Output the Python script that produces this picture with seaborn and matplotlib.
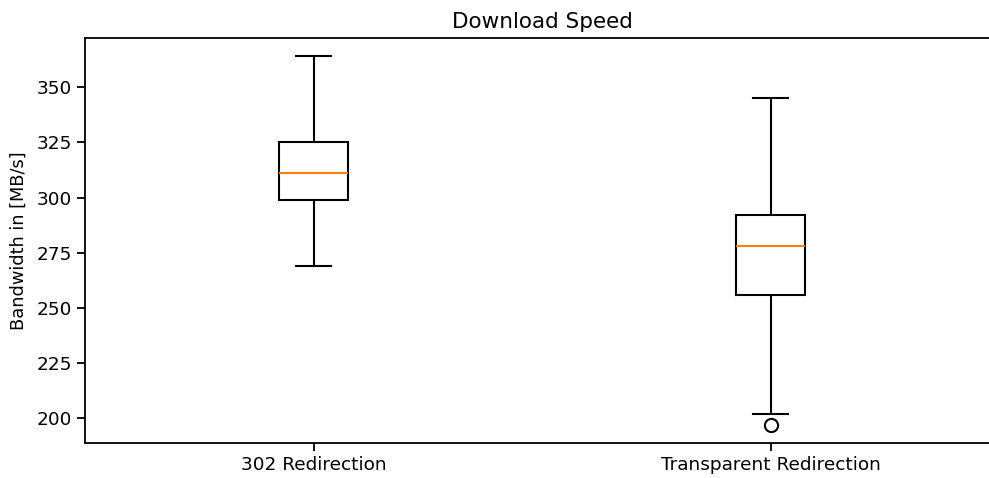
import matplotlib
matplotlib.use("Agg")
import matplotlib.pyplot as plt
import seaborn as sns
import pandas as pd

categories = ["302 Redirection", "Transparent Redirection"]
bw_302 = [269, 290, 299, 305, 311, 318, 325, 340, 364]
bw_transparent = [197, 202, 256, 270, 278, 285, 292, 320, 345]

df = pd.DataFrame({
    "method": [categories[0]] * len(bw_302) + [categories[1]] * len(bw_transparent),
    "bw": bw_302 + bw_transparent,
})

plt.rcParams["font.family"] = ["DejaVu Sans"]
fig = plt.figure(figsize=(9.89, 4.78), dpi=100)
ax = fig.add_axes([85 / 989, 1 - 443 / 478, 914 / 989, (443 - 38) / 478])

sns.boxplot(
    data=df, x="method", y="bw", order=categories, ax=ax,
    width=0.15, color="white", linecolor="black", linewidth=1.5,
    medianprops=dict(color="#ff7f0e", linewidth=1.5),
    flierprops=dict(marker="o", markerfacecolor="none", markeredgecolor="black",
                    markersize=9.5, markeredgewidth=1.5),
)

ax.set_xlim(-0.5, 1.5)
ax.set_ylim(188.65, 372.35)
ax.set_yticks([200, 225, 250, 275, 300, 325, 350])
ax.set_xlabel("")
ax.set_ylabel("Bandwidth in [MB/s]", fontsize=12.8, labelpad=6)
ax.set_title("Download Speed", fontsize=15.5, pad=7)
ax.tick_params(labelsize=13.3, width=1.3, length=6)
for s in ax.spines.values():
    s.set_linewidth(1.3)

fig.savefig("out.png", dpi=100)
